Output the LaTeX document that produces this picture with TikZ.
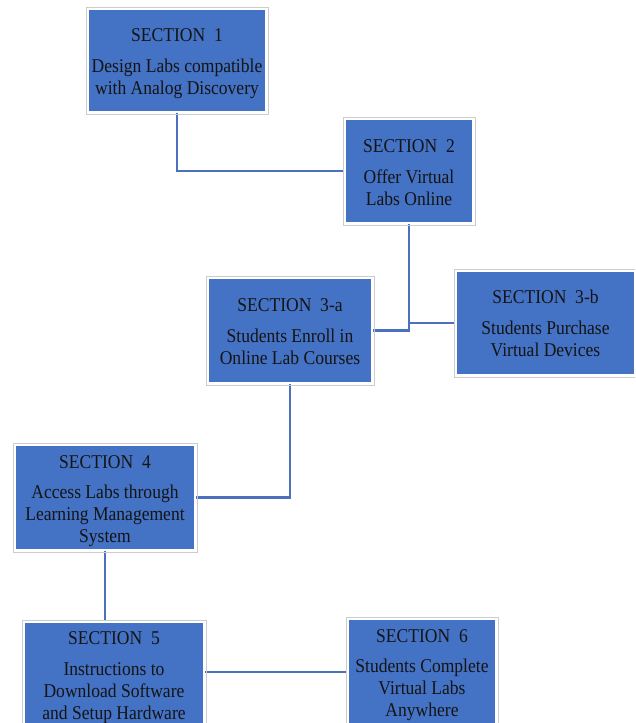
\documentclass[tikz,border=0pt]{standalone}
\usepackage{fontspec}
\setmainfont{Liberation Serif}[FakeStretch=0.9]
\usetikzlibrary{backgrounds}
\definecolor{boxblue}{HTML}{4472C4}
\definecolor{lineblue}{HTML}{4A70BE}
\newcommand\txtdn[1]{\rule{0pt}{#1}}
\begin{document}
\begin{tikzpicture}[x=1pt,y=-1pt,
  secbox/.style={fill=boxblue, draw=white, line width=1.5pt, inner sep=0pt,
    align=center, text=black!92, font=\fontsize{19.5}{22}\selectfont},
  link/.style={draw=lineblue, line width=2.2pt}]
\useasboundingbox (0,0) rectangle (635,723);
\clip (0,0) rectangle (635,723);
\node[secbox, minimum width=178pt, minimum height=103pt] (b1) at (177,60.5)
  {\txtdn{20pt}SECTION\ \ 1\\[9pt]Design Labs compatible\\with Analog Discovery};
\node[secbox, minimum width=128pt, minimum height=104pt] (b2) at (409,171)
  {\txtdn{17pt}SECTION\ \ 2\\[9pt]Offer Virtual\\Labs Online};
\node[secbox, minimum width=164pt, minimum height=105pt] (b3a) at (290,330.5)
  {\txtdn{15pt}SECTION\ \ 3-a\\[9pt]Students Enroll in\\Online Lab Courses};
\node[secbox, minimum width=179pt, minimum height=104pt] (b3b) at (545.5,323)
  {\txtdn{15pt}SECTION\ \ 3-b\\[9pt]Students Purchase\\Virtual Devices};
\node[secbox, minimum width=180pt, minimum height=105pt] (b4) at (105,497.5)
  {\txtdn{21pt}SECTION\ \ 4\\[8pt]Access Labs through\\Learning Management\\System};
\node[secbox, minimum width=180pt, minimum height=104pt] (b5) at (114,674)
  {\txtdn{21pt}SECTION\ \ 5\\[9pt]Instructions to\\Download Software\\and Setup Hardware};
\node[secbox, minimum width=148pt, minimum height=106pt] (b6) at (422,672)
  {\txtdn{19pt}SECTION\ \ 6\\[8pt]Students Complete\\Virtual Labs\\Anywhere};
\foreach \n in {b1,b2,b3a,b3b,b4,b5,b6}
  \draw[gray!40, line width=0.8pt] ([shift={(-1.2,-1.2)}]\n.north west) rectangle ([shift={(1.2,1.2)}]\n.south east);
\begin{pgfonlayer}{background}
\draw[link] (b1.south) |- (b2.west);
\draw[link] (b2.south) -- (b2.south |- b3a.east);
\draw[link] (b3a.east) -- (b2.south |- b3a.east) |- (b3b.west);
\draw[link] (b3a.south) |- (b4.east);
\draw[link] (b4.south) -- (b4.south |- b5.north);
\draw[link] (b5.east |- b6.west) -- (b6.west);
\end{pgfonlayer}
\end{tikzpicture}
\end{document}
